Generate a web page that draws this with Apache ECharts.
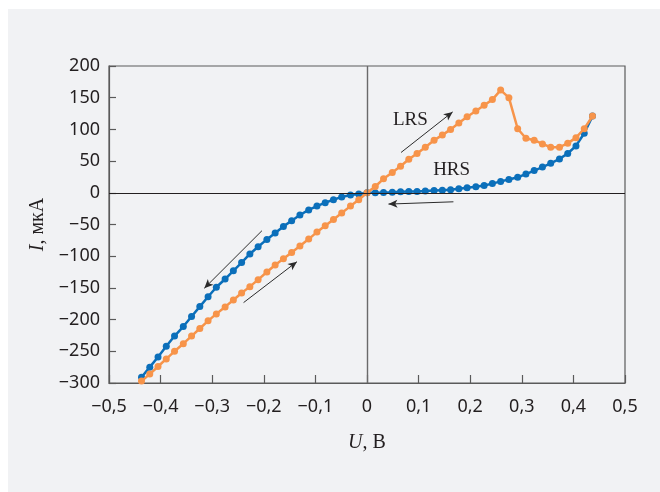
<!DOCTYPE html>
<html>
<head>
<meta charset="utf-8">
<script src="https://cdn.jsdelivr.net/npm/echarts@6/dist/echarts.min.js"></script>
<style>
  html, body { margin: 0; padding: 0; background: #ffffff; }
  #panel { position: absolute; left: 8px; top: 9px; width: 652px; height: 483px; background: #f1f2f4; }
  #chart { position: absolute; left: 0; top: 0; width: 660px; height: 492px; }
</style>
</head>
<body>
<div id="panel"></div>
<div id="chart"></div>
<script>
// Voltage sweep points, V
const voltage = [-0.437, -0.421, -0.405, -0.389, -0.373, -0.356, -0.340, -0.324, -0.308, -0.292,
  -0.275, -0.259, -0.243, -0.227, -0.211, -0.194, -0.178, -0.162, -0.146, -0.130,
  -0.113, -0.097, -0.081, -0.065, -0.049, -0.032, -0.016, 0, 0.016, 0.032,
  0.049, 0.065, 0.081, 0.097, 0.113, 0.130, 0.146, 0.162, 0.178, 0.194,
  0.211, 0.227, 0.243, 0.259, 0.275, 0.292, 0.308, 0.324, 0.340, 0.356,
  0.373, 0.389, 0.405, 0.421, 0.437];

// Current in the low-resistance state (forward sweep), µA
const currentLRS = [-297, -286, -274, -262, -250, -238, -226, -214, -202, -191,
  -180, -169, -158, -148, -137, -125, -114, -104, -94, -84,
  -73, -62, -52, -42, -32, -21, -11, 0, 10, 22,
  32, 42, 53, 62, 72, 83, 91, 100, 110, 120,
  129, 138, 147, 162, 150, 101, 86, 83, 77, 72,
  72, 78, 87, 101, 121];

// Current in the high-resistance state (reverse sweep), µA
const currentHRS = [-291, -275, -259, -242, -226, -211, -195, -179.5, -164, -149,
  -136, -123, -110, -96.5, -85, -73.5, -63.5, -53, -44, -35,
  -27, -21, -15.5, -11, -6.5, -3.6, -2, 0, 0.2, 0.5,
  1, 1.5, 2, 2, 2.7, 3.7, 4.2, 4.7, 6.3, 7.9,
  9.5, 11.6, 14.5, 18, 21, 24.5, 29.5, 35, 40.5, 46.5,
  53.5, 62, 74, 94, 121];

const xTicks = [-0.5, -0.4, -0.3, -0.2, -0.1, 0, 0.1, 0.2, 0.3, 0.4, 0.5];
const yTicks = [-300, -250, -200, -150, -100, -50, 0, 50, 100, 150, 200];

const stateLabels = ['LRS', 'HRS'];

const lrsData = voltage.map((u, i) => [u, currentLRS[i]]);
const hrsData = voltage.map((u, i) => [u, currentHRS[i]]);

const ink = '#231f20';
const frame = '#5a5a5a';
const serif = '"Liberation Serif", "DejaVu Serif", serif';
const sans = '"Noto Sans", "Open Sans", sans-serif';

function fmtTick(v, digits) {
  const s = Math.abs(v) < 1e-9 ? '0' : v.toFixed(digits).replace('.', ',');
  return s.replace('-', '\u2212');
}

const chart = echarts.init(document.getElementById('chart'), null, { renderer: 'canvas' });

const arrowLine = { color: '#2b2b2b', width: 1, type: 'solid' };

chart.setOption({
  animation: false,
  backgroundColor: 'transparent',
  grid: {
    left: 109, top: 66, width: 516, height: 317,
    show: true, borderColor: frame, borderWidth: 1.2, backgroundColor: 'transparent'
  },
  xAxis: {
    type: 'value', min: xTicks[0], max: xTicks[xTicks.length - 1], interval: 0.1,
    axisLine: { show: true, onZero: false, lineStyle: { color: frame, width: 1.2 } },
    axisTick: { show: true, inside: true, length: 8, lineStyle: { color: frame, width: 1.2 } },
    splitLine: { show: false },
    axisLabel: {
      margin: 15, fontSize: 18, fontFamily: sans, color: ink,
      formatter: v => fmtTick(v, 1)
    },
    name: '{i|U}, В',
    nameLocation: 'middle', nameGap: 50,
    nameTextStyle: {
      fontFamily: serif, fontSize: 20, color: ink,
      rich: { i: { fontFamily: serif, fontSize: 20, fontStyle: 'italic', color: ink } }
    }
  },
  yAxis: {
    type: 'value', min: yTicks[0], max: yTicks[yTicks.length - 1], interval: 50,
    axisLine: { show: true, onZero: false, lineStyle: { color: frame, width: 1.2 } },
    axisTick: { show: true, inside: true, length: 7, lineStyle: { color: frame, width: 1.2 } },
    splitLine: { show: false },
    axisLabel: {
      margin: 9, fontSize: 18, fontFamily: sans, color: ink,
      formatter: v => fmtTick(v, 0)
    },
    name: '{i|I}, мкА',
    nameLocation: 'middle', nameGap: 50, nameRotate: 90,
    nameTextStyle: {
      fontFamily: serif, fontSize: 20, color: ink,
      rich: { i: { fontFamily: serif, fontSize: 20, fontStyle: 'italic', color: ink } }
    }
  },
  series: [
    {
      // zero lines, sweep-direction arrows and state captions
      type: 'line',
      data: [[0, 0]],
      symbolSize: 0,
      lineStyle: { opacity: 0 },
      silent: true,
      z: 1,
      markLine: {
        silent: true,
        symbol: ['none', 'arrow'],
        symbolSize: [6, 9],
        label: { show: false },
        animation: false,
        data: [
          [{ coord: [0, yTicks[0]], symbol: 'none' }, { coord: [0, yTicks[yTicks.length - 1]], symbol: 'none', lineStyle: { color: '#6a6a6a', width: 1.4, type: 'solid' } }],
          [{ coord: [xTicks[0], 0], symbol: 'none' }, { coord: [xTicks[xTicks.length - 1], 0], symbol: 'none', lineStyle: { color: ink, width: 1.2, type: 'solid' } }],
          [{ coord: [0.066, 63.6] }, { coord: [0.166, 127.6], lineStyle: arrowLine }],
          [{ coord: [0.1675, -14.2] }, { coord: [0.0416, -17.8], lineStyle: Object.assign({ curveness: 0.06 }, arrowLine) }],
          [{ coord: [-0.2036, -59.8] }, { coord: [-0.3153, -150.6], lineStyle: arrowLine }],
          [{ coord: [-0.2392, -173.2] }, { coord: [-0.1358, -108.7], lineStyle: arrowLine }]
        ]
      },
      markPoint: {
        silent: true,
        symbol: 'circle',
        symbolSize: 1,
        itemStyle: { color: 'transparent' },
        label: {
          show: true, position: 'inside', formatter: '{b}',
          fontFamily: serif, fontSize: 19, color: ink
        },
        data: [
          { name: stateLabels[0], coord: [0.084, 114.6] },
          { name: stateLabels[1], coord: [0.164, 35.3] }
        ]
      }
    },
    {
      name: stateLabels[1],
      type: 'line',
      data: hrsData,
      z: 2,
      symbol: 'circle',
      symbolSize: 7,
      showAllSymbol: true,
      lineStyle: { color: '#0b6fba', width: 2.5 },
      itemStyle: { color: '#0b6fba' }
    },
    {
      name: stateLabels[0],
      type: 'line',
      data: lrsData,
      z: 3,
      symbol: 'circle',
      symbolSize: 7,
      showAllSymbol: true,
      lineStyle: { color: '#f7944a', width: 2.5 },
      itemStyle: { color: '#f7944a' }
    }
  ]
});
</script>
</body>
</html>
